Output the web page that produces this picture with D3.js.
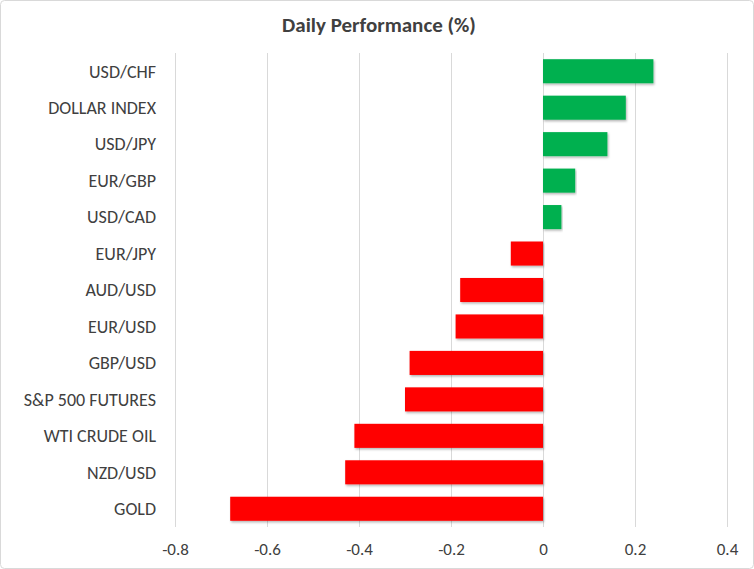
<!DOCTYPE html>
<html>
<head>
<meta charset="utf-8">
<script src="https://cdn.jsdelivr.net/npm/d3@7"></script>
<style>
  body { margin: 0; background: #fff; }
  svg { display: block; font-family: Carlito, Lato, "Open Sans", sans-serif; }
</style>
</head>
<body>
<svg id="chart" width="754" height="569"></svg>
<script>
// chart data
const categories = ["USD/CHF", "DOLLAR INDEX", "USD/JPY", "EUR/GBP", "USD/CAD", "EUR/JPY",
  "AUD/USD", "EUR/USD", "GBP/USD", "S&P 500 FUTURES", "WTI CRUDE OIL", "NZD/USD", "GOLD"];
const values = [0.24, 0.18, 0.14, 0.07, 0.04, -0.07, -0.18, -0.19, -0.29, -0.30, -0.41, -0.43, -0.68];
const xTicks = [-0.8, -0.6, -0.4, -0.2, 0, 0.2, 0.4];
const title = "Daily Performance (%)";

const width = 754, height = 569;
const margin = {top: 53, right: 27, bottom: 42, left: 175};

const svg = d3.select("#chart");

// outer frame
svg.append("rect")
  .attr("x", 0.5).attr("y", 0.5)
  .attr("width", width - 1).attr("height", height - 1)
  .attr("rx", 4)
  .attr("fill", "#fff")
  .attr("stroke", "#d9d9d9");

const defs = svg.append("defs");
const shadow = defs.append("filter").attr("id", "shadow")
  .attr("x", "-5%").attr("y", "-20%").attr("width", "110%").attr("height", "150%");
shadow.append("feDropShadow")
  .attr("dx", 1).attr("dy", 1.5).attr("stdDeviation", 1.2)
  .attr("flood-color", "#000").attr("flood-opacity", 0.3);

const scaleX = d3.scaleLinear().domain([-0.8, 0.4]).range([margin.left, width - margin.right]);
const scaleY = d3.scaleBand().domain(categories)
  .range([margin.top, height - margin.bottom]).paddingInner(0.34).paddingOuter(0.17);

// grid lines
svg.append("g")
  .attr("class", "grid")
  .attr("transform", "translate(0," + (height - margin.bottom) + ")")
  .call(d3.axisBottom(scaleX).tickValues(xTicks)
    .tickSize(-(height - margin.bottom - margin.top)).tickFormat(""))
  .call(g => g.select(".domain").remove())
  .call(g => g.selectAll("line").attr("stroke", "#d9d9d9"));

// bars
svg.append("g")
  .selectAll("rect")
  .data(categories)
  .join("rect")
  .attr("x", (d, i) => scaleX(Math.min(0, values[i])))
  .attr("y", d => scaleY(d))
  .attr("width", (d, i) => Math.abs(scaleX(values[i]) - scaleX(0)))
  .attr("height", scaleY.bandwidth())
  .attr("fill", (d, i) => values[i] >= 0 ? "#00b050" : "#ff0000")
  .attr("filter", "url(#shadow)");

// x axis labels
svg.append("g")
  .attr("class", "x axis")
  .attr("transform", "translate(0," + (height - margin.bottom) + ")")
  .call(d3.axisBottom(scaleX).tickValues(xTicks).tickSize(0).tickPadding(16)
    .tickFormat(d => d === 0 ? "0" : String(+d.toFixed(1))))
  .call(g => g.select(".domain").remove())
  .call(g => g.selectAll("text").attr("fill", "#404040").attr("font-size", 17)
    .attr("font-family", "Carlito, Lato, sans-serif"));

// category labels
svg.append("g")
  .attr("class", "y axis")
  .selectAll("text")
  .data(categories)
  .join("text")
  .attr("x", 156)
  .attr("y", d => scaleY(d) + scaleY.bandwidth() / 2)
  .attr("dy", "0.35em")
  .attr("text-anchor", "end")
  .attr("fill", "#404040")
  .attr("font-size", 18)
  .text(d => d);

// title
svg.append("text")
  .attr("x", width / 2 + 2)
  .attr("y", 32)
  .attr("text-anchor", "middle")
  .attr("font-weight", "bold")
  .attr("font-size", 21)
  .attr("fill", "#404040")
  .text(title);
</script>
</body>
</html>
